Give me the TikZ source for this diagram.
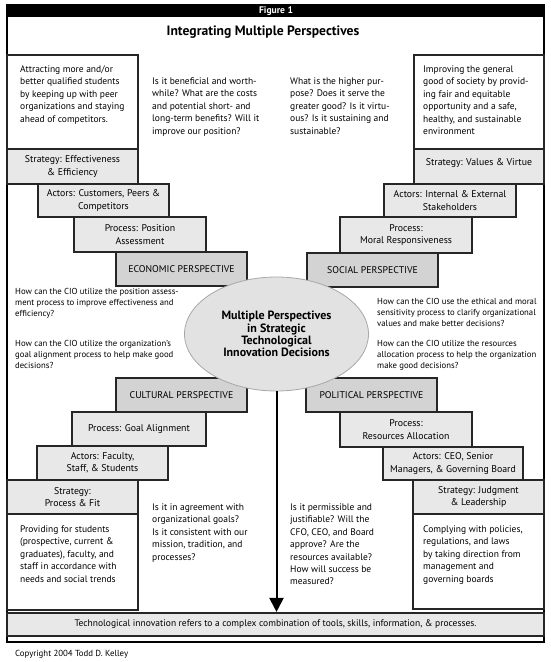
\documentclass[tikz,border=0pt]{standalone}
\usepackage{fontspec}
\setmainfont{PT Sans}
\usetikzlibrary{arrows.meta,shapes.geometric}
\definecolor{boxgray}{HTML}{E8E8E8}
\definecolor{perspgray}{HTML}{D3D3D3}
\definecolor{ellgray}{HTML}{E2E2E2}
\definecolor{ellline}{HTML}{A8A8A8}
\begin{document}
\begin{tikzpicture}[x=1pt,y=-1pt,
  bx/.style={draw=black!85, line width=1.1pt, inner sep=0pt, align=center,
    font=\fontsize{9.8}{12.4}\selectfont},
  lightbox/.style={bx, fill=boxgray},
  perspbox/.style={bx, fill=perspgray},
  whitebox/.style={bx, fill=white},
  bodytext/.style={anchor=north west, inner sep=0pt, align=left,
    font=\fontsize{9.5}{12.4}\selectfont},
  midtext/.style={anchor=north west, inner sep=0pt, align=left,
    font=\fontsize{8.7}{11}\selectfont},
  sz/.style 2 args={minimum width=#1pt, minimum height=#2pt}
]
\useasboundingbox (0,0) rectangle (551,662);
\fill[white] (0,0) rectangle (551,662);

% outer frame and header
\node[draw=black, line width=1.2pt, inner sep=0pt, sz={537}{637}] (frame) at (275.5,323.5) {};
\node[fill=black, inner sep=0pt, sz={538}{12}, text=white,
  font=\fontsize{9.6}{10}\selectfont\bfseries] (header) at (276,11) {Figure 1};
\node[inner sep=0pt, font=\fontsize{13.6}{15}\selectfont\bfseries] (title) at (263,32)
  {Integrating Multiple Perspectives};

% bottom band
\node[bx, fill=boxgray, sz={537}{23}, font=\fontsize{9.5}{11}\selectfont] (band) at (275.5,624.5)
  {Technological innovation refers to a complex combination of tools, skills, information, \& processes.};

% ---------- economic (top left) ----------
\node[whitebox, sz={131}{94}] (tlbox) at (72.5,102) {};
\node[lightbox, sz={131}{35}] (sEE) at (72.5,166.5) {Strategy: Effectiveness\\\& Efficiency};
\node[lightbox, sz={131}{33}] (aCPC) at (103.5,200.5) {Actors: Customers, Peers \&\\Competitors};
\node[lightbox, sz={132}{35}] (pPA) at (140,234.5) {Process: Position\\Assessment};
\node[perspbox, sz={131}{34}] (econ) at (181.5,269) {ECONOMIC PERSPECTIVE};

% ---------- social (top right) ----------
\node[whitebox, sz={130}{94}] (trbox) at (479,102) {};
\node[lightbox, sz={130}{35}] (sVV) at (479,166.5) {Strategy: Values \& Virtue\\[-4pt]\mbox{}};
\node[lightbox, sz={132}{33}] (aIE) at (450,200.5) {Actors: Internal \& External\\Stakeholders};
\node[lightbox, sz={132}{36}] (pMR) at (406,235) {Process:\\Moral Responsiveness};
\node[perspbox, sz={131}{34}] (soc) at (372.5,270) {SOCIAL PERSPECTIVE};

% ---------- cultural (bottom left) ----------
\node[perspbox, sz={131}{34}] (cult) at (181.5,395) {CULTURAL PERSPECTIVE};
\node[lightbox, sz={134}{34}] (pGA) at (139,429) {Process: Goal Alignment};
\node[lightbox, sz={131}{34}] (aFSS) at (102.5,463) {Actors: Faculty,\\Staff, \& Students};
\node[lightbox, sz={131}{34}] (sPF) at (72.5,497) {Strategy:\\Process \& Fit};
\node[whitebox, sz={131}{96}] (blbox) at (72.5,562) {};

% ---------- political (bottom right) ----------
\node[perspbox, sz={131}{34}] (pol) at (371.5,395) {POLITICAL PERSPECTIVE};
\node[lightbox, sz={132}{35}] (pRA) at (406,429.5) {Process:\\Resources Allocation};
\node[lightbox, sz={140}{33}] (aCEO) at (453,463.5) {Actors: CEO, Senior\\Managers, \& Governing Board};
\node[lightbox, sz={131}{34}] (sJL) at (478.5,497) {Strategy: Judgment\\\& Leadership};
\node[whitebox, sz={131}{95}] (brbox) at (478.5,561.5) {};

% ---------- texts ----------
\node[bodytext] (tltext) at (20,65.5) {Attracting more and/or\\better qualified students\\by keeping up with peer\\organizations and staying\\ahead of competitors.};
\node[bodytext] (tlq) at (152,77.5) {Is it beneficial and worth-\\while? What are the costs\\and potential short- and\\long-term benefits? Will it\\improve our position?};
\node[bodytext] (trq) at (290,77.5) {What is the higher pur-\\pose? Does it serve the\\greater good? Is it virtu-\\ous? Is it sustaining and\\sustainable?};
\node[bodytext] (trtext) at (423,65.5) {Improving the general\\good of society by provid-\\ing fair and equitable\\opportunity and a safe,\\healthy, and sustainable\\environment};

\node[midtext] (ml1) at (15,288) {How can the CIO utilize the position assess-\\ment process to improve effectiveness and\\efficiency?};
\node[midtext] (ml2) at (15,340) {How can the CIO utilize the organization’s\\goal alignment process to help make good\\decisions?};
\node[midtext] (mr1) at (377,298) {How can the CIO use the ethical and moral\\sensitivity process to clarify organizational\\values and make better decisions?};
\node[midtext] (mr2) at (377,340) {How can the CIO utilize the resources\\allocation process to help the organization\\make good decisions?};

\node[bodytext] (blq) at (152,503.5) {Is it in agreement with\\organizational goals?\\Is it consistent with our\\mission, tradition, and\\processes?};
\node[bodytext] (bltext) at (20,525.5) {Providing for students\\(prospective, current \&\\graduates), faculty, and\\staff in accordance with\\needs and social trends};
\node[bodytext] (brq) at (290,503.5) {Is it permissible and\\justifiable? Will the\\CFO, CEO, and Board\\approve? Are the\\resources available?\\How will success be\\measured?};
\node[bodytext] (brtext) at (423,525.5) {Complying with policies,\\regulations, and laws\\by taking direction from\\management and\\governing boards};

% ---------- center ellipse and arrow ----------
\node[ellipse, draw=ellline, line width=0.8pt, fill=ellgray, inner sep=0pt,
  minimum width=184pt, minimum height=114pt, align=center,
  font=\fontsize{12}{12.2}\selectfont\bfseries] (ell) at (276.5,334)
  {Multiple Perspectives\\in Strategic\\Technological\\Innovation Decisions};
\coordinate (tip) at (band.north -| ell.south);
\draw[line width=2pt, -{Triangle[width=14pt,length=14pt]}, shorten >=0.5pt] (ell.south) -- (tip);

\node[anchor=west, inner sep=0pt, font=\fontsize{8.8}{9}\selectfont] (copy) at (15,654) {Copyright 2004 Todd D. Kelley};
\end{tikzpicture}
\end{document}
